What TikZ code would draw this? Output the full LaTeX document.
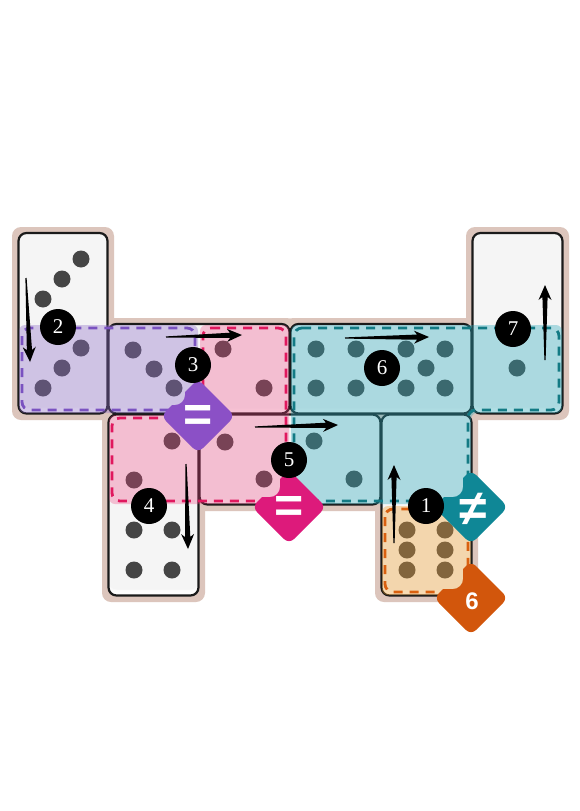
\documentclass[tikz,border=0pt]{standalone}
\usepackage{fontspec}
\newfontfamily\symfont{Liberation Sans}
\newfontfamily\numfont{Liberation Serif}
\usetikzlibrary{calc}
\definecolor{bgtan}{HTML}{DCC5BC}
\definecolor{face}{HTML}{F5F5F5}
\definecolor{shade}{HTML}{B0B0B0}
\definecolor{edge}{HTML}{1A1A1A}
\definecolor{pipc}{HTML}{454545}
\definecolor{purF}{HTML}{8E6CC8}
\definecolor{purD}{HTML}{7A52C0}
\definecolor{purS}{HTML}{8B50C6}
\definecolor{pinF}{HTML}{F0407E}
\definecolor{pinD}{HTML}{E0185E}
\definecolor{pinS}{HTML}{DD1A7B}
\definecolor{teaF}{HTML}{2AA9BB}
\definecolor{teaD}{HTML}{137A84}
\definecolor{teaS}{HTML}{0F8796}
\definecolor{oraF}{HTML}{F0A030}
\definecolor{oraD}{HTML}{D9600F}
\definecolor{oraS}{HTML}{D2560C}
\tikzset{
  bgshape/.style={fill=bgtan, rounded corners=9},
  pipdot/.style={fill=pipc},
  regfill/.style={fill=#1, fill opacity=0.36, rounded corners=6},
  regline/.style={draw=#1, line width=2.8, dash pattern=on 9 off 7, rounded corners=8},
  diam/.style={fill=#1, rounded corners=7},
  symtxt/.style={text=white, inner sep=0, font=\symfont\bfseries\fontsize{50}{50}\selectfont},
  numtxt/.style={text=white, inner sep=0, font=\symfont\bfseries\fontsize{24}{24}\selectfont},
  numc/.style={circle, fill=black, minimum size=36, inner sep=0, text=white, font=\numfont\fontsize{21}{21}\selectfont},
}
\newcommand{\domino}[4]{%
  \fill[shade, rounded corners=8] (#1,#2) rectangle (#3,#4);
  \fill[face, rounded corners=8] (#1,#2) rectangle (#3,{#4-6});
  \draw[edge, line width=2.2, rounded corners=8] (#1,#2) rectangle (#3,#4);}
\newcommand{\pip}[2]{\fill[pipdot] (#1,#2) circle (8.5);}
\newcommand{\taper}[2]{%
  \fill[black] ($(#1)!0.6pt!90:(#2)$) -- ($(#2)!12pt!(#1)!2.6pt!90:(#2)$) -- ($(#2)!15pt!(#1)!6.5pt!90:(#2)$) -- (#2)
   -- ($(#2)!15pt!(#1)!6.5pt!-90:(#2)$) -- ($(#2)!12pt!(#1)!2.6pt!-90:(#2)$) -- ($(#1)!0.6pt!-90:(#2)$) -- cycle;}
\newcommand{\diamondat}[5]{% cx cy color notchx notchy
  \begin{scope}[even odd rule]
    \clip ({#1-45},{#2-45}) rectangle ({#1+45},{#2+45})
      [rounded corners=10] ({#1-120},{#2-120}) rectangle (#4,#5);
    \fill[diam=#3] (#1,{#2-37}) -- ({#1+37},#2) -- (#1,{#2+37}) -- ({#1-37},#2) -- cycle;
  \end{scope}}
\begin{document}
\begin{tikzpicture}[x=1pt,y=-1pt]
\useasboundingbox (0,0) rectangle (580,811);
\fill[white] (0,0) rectangle (580,811);
% background
\fill[bgshape] (12,227) rectangle (114,420);
\fill[bgshape] (102,318) rectangle (296,420);
\fill[bgshape] (284,318) rectangle (478,420);
\fill[bgshape] (466,227) rectangle (569,420);
\fill[bgshape] (102,408) rectangle (205,602);
\fill[bgshape] (193,408) rectangle (387,511);
\fill[bgshape] (375,408) rectangle (478,602);
% dominoes
\domino{18.5}{233}{107.5}{413.5}
\domino{108.5}{324}{289.5}{413.5}
\domino{290.5}{324}{471.5}{413.5}
\domino{472.5}{233}{562.5}{413.5}
\domino{108.5}{414.5}{198.5}{595.5}
\domino{199.5}{414.5}{380.5}{504.5}
\domino{381.5}{414.5}{471.5}{595.5}
% pips
\pip{81}{259}\pip{62}{279}\pip{43}{299}
\pip{81}{348}\pip{62}{368}\pip{43}{388}
\pip{133}{350}\pip{154}{369}\pip{174}{388}
\pip{223}{349}\pip{264}{388}
\pip{316}{349}\pip{356}{349}\pip{316}{388}\pip{356}{388}
\pip{406}{349}\pip{445}{349}\pip{426}{368}\pip{406}{388}\pip{445}{388}
\pip{517}{368}
\pip{172}{441}\pip{134}{480}
\pip{134}{530}\pip{172}{530}\pip{134}{570}\pip{172}{570}
\pip{225}{442}\pip{264}{479}
\pip{314}{441}\pip{354}{479}
\pip{407}{530}\pip{445}{530}\pip{407}{550}\pip{445}{550}\pip{407}{570}\pip{445}{570}
% region fills
\fill[regfill=purF] (19,325) rectangle (198,413);
\fill[regfill=pinF, fill opacity=0.3] (200,325) -- (289,325) -- (289,504) -- (109,504) -- (109,415) -- (200,415) -- cycle;
\fill[regfill=teaF] (291,325) -- (562,325) -- (562,413) -- (471,413) -- (471,504) -- (291,504) -- cycle;
\fill[regfill=oraF] (382,506) rectangle (471,595);
% region outlines
\draw[regline=purD] (22,328) rectangle (195,410);
\draw[regline=pinD] (203,328) -- (286,328) -- (286,501) -- (112,501) -- (112,418) -- (203,418) -- cycle;
\draw[regline=teaD] (294,328) -- (559,328) -- (559,410) -- (468,410) -- (468,501) -- (294,501) -- cycle;
\draw[regline=oraD] (385,509) rectangle (468,592);
% constraint diamonds
\diamondat{198}{416}{purS}{185}{405}
\diamondat{289}{507}{pinS}{280}{497}
\diamondat{471}{507}{teaS}{463}{497}
\diamondat{471}{598}{oraS}{463}{589}
\node[symtxt] (cPur) at (198,418) {=};
\node[symtxt] (cPin) at (289,509) {=};
\node[symtxt] (cTea) at (473,509) {≠};
\node[numtxt] (cOra) at (472,601) {6};
% arrows
\coordinate (t1) at (394,543); \coordinate (h1) at (394,465);
\coordinate (t2) at (26,278);  \coordinate (h2) at (30,362);
\coordinate (t3) at (166,337); \coordinate (h3) at (242,335);
\coordinate (t4) at (186,464); \coordinate (h4) at (188,549);
\coordinate (t5) at (255,427); \coordinate (h5) at (338,425);
\coordinate (t6) at (345,338); \coordinate (h6) at (429,337);
\coordinate (t7) at (545,360); \coordinate (h7) at (545,285);
\taper{t1}{h1}\taper{t2}{h2}\taper{t3}{h3}\taper{t4}{h4}
\taper{t5}{h5}\taper{t6}{h6}\taper{t7}{h7}
% step circles
\node[numc] (n1) at (426,506) {1};
\node[numc] (n2) at (58,327) {2};
\node[numc] (n3) at (193,365) {3};
\node[numc] (n4) at (149,506) {4};
\node[numc] (n5) at (289,460) {5};
\node[numc] (n6) at (382,368) {6};
\node[numc] (n7) at (513,329) {7};
\end{tikzpicture}
\end{document}
